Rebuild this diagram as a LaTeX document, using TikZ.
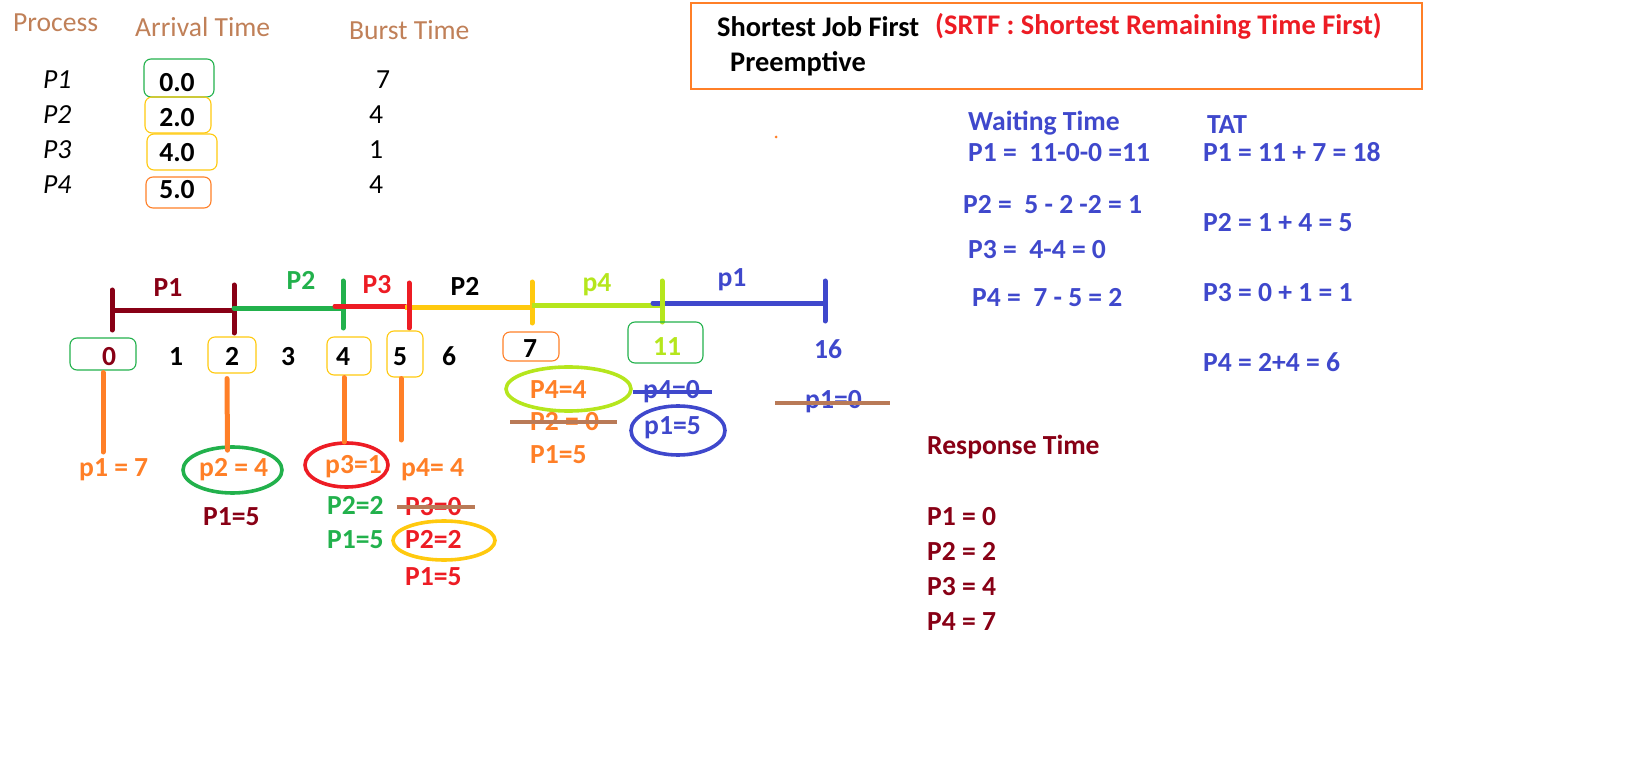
\documentclass[tikz,border=0pt]{standalone}
\usepackage{fontspec}
\setmainfont{Carlito}
\usetikzlibrary{shapes.geometric}
\definecolor{pmaroon}{RGB}{136,0,21}
\definecolor{pred}{RGB}{237,28,36}
\definecolor{porange}{RGB}{255,127,39}
\definecolor{pgold}{RGB}{255,201,14}
\definecolor{pgreen}{RGB}{34,177,76}
\definecolor{plime}{RGB}{181,230,29}
\definecolor{pblue}{RGB}{63,72,204}
\definecolor{pbrown}{RGB}{185,122,87}
\definecolor{phdr}{RGB}{192,128,88}
\begin{document}
\begin{tikzpicture}[x=1pt,y=-1pt,
  txt/.style={inner sep=0pt, text height=17pt, text depth=0pt, font=\fontsize{27.6}{32}\selectfont},
  btxt/.style={txt, font=\fontsize{27.6}{32}\selectfont\bfseries},
  ttxt/.style={txt, font=\fontsize{28.4}{32}\selectfont\bfseries},
  itxt/.style={txt, font=\fontsize{27.6}{32}\selectfont\itshape},
  rbox/.style={draw, rounded corners=7pt, line width=1.1pt, inner sep=0pt},
  oval/.style={draw, ellipse, line width=3.6pt, inner sep=0pt},
  bar/.style={line width=5pt},
  tick/.style={line width=5pt, line cap=round},
  strike/.style={line width=4pt, pbrown},
  oline/.style={line width=5pt, porange, line cap=round}]
\useasboundingbox (0,0) rectangle (1634,762);

% ---------- process table ----------
\node[txt, phdr, anchor=west] (hproc) at (13,23) {Process};
\node[txt, phdr, anchor=west] (harr) at (135,28) {Arrival Time};
\node[txt, phdr, anchor=west] (hburst) at (349,31) {Burst Time};
\node[itxt, anchor=west] (r1) at (43,80) {P1};
\node[itxt, anchor=west] (r2) at (43,115) {P2};
\node[itxt, anchor=west] (r3) at (43,150) {P3};
\node[itxt, anchor=west] (r4) at (43,185) {P4};
\node[rbox, draw=pgreen, minimum width=70pt, minimum height=38pt] (ab1) at (179,78) {};
\node[rbox, draw=pgold, minimum width=66pt, minimum height=36pt] (ab2) at (178,115) {};
\node[rbox, draw=pgold, minimum width=70pt, minimum height=36pt] (ab3) at (182,152) {};
\node[rbox, draw=porange, minimum width=65pt, minimum height=31pt] (ab4) at (178.5,192.5) {};
\node[btxt] (a1) at (177,83) {0.0};
\node[btxt] (a2) at (177,118) {2.0};
\node[btxt] (a3) at (177,153) {4.0};
\node[btxt] (a4) at (177,190) {5.0};
\node[txt] (b1) at (383,80) {7};
\node[txt] (b2) at (376,115) {4};
\node[txt] (b3) at (376,150) {1};
\node[txt] (b4) at (376,185) {4};

% ---------- title ----------
\node[draw=porange, line width=1.3pt, minimum width=731pt, minimum height=86pt, inner sep=0pt] (tbox) at (1056.5,46) {};
\node[ttxt, anchor=west] (t1) at (717,28) {Shortest Job First};
\node[ttxt, pred, anchor=west] (t2) at (935,26) {(SRTF : Shortest Remaining Time First)};
\node[ttxt, anchor=west] (t3) at (730,63) {Preemptive};
\fill[porange] (776,137) circle (1.5);

% ---------- waiting time / TAT ----------
\begin{scope}[every node/.style={btxt, pblue, anchor=west}]
\node (wt) at (968,122) {Waiting Time};
\node (w1) at (968,153) {P1 =\ \ 11-0-0 =11};
\node (w2) at (963,205) {P2 =\ \ 5 - 2 -2 = 1};
\node (w3) at (968,250) {P3 =\ \ 4-4 = 0};
\node (w4) at (972,298) {P4 =\ \ 7 - 5 = 2};
\node (tat) at (1207,125) {TAT};
\node (ta1) at (1203,153) {P1 = 11 + 7 = 18};
\node (ta2) at (1203,223) {P2 = 1 + 4 = 5};
\node (ta3) at (1203,293) {P3 = 0 + 1 = 1};
\node (ta4) at (1203,363) {P4 = 2+4 = 6};
\end{scope}

% ---------- response time ----------
\begin{scope}[every node/.style={btxt, pmaroon, anchor=west}]
\node (rt) at (927,446) {Response Time};
\node (rt1) at (927,517) {P1 = 0};
\node (rt2) at (927,552) {P2 = 2};
\node (rt3) at (927,587) {P3 = 4};
\node (rt4) at (927,622) {P4 = 7};
\end{scope}

% ---------- gantt chart ----------
\coordinate (g0) at (112,310);
\coordinate (g2) at (234,310);
\draw[bar, pmaroon] (g0) -- (g2);
\draw[tick, pmaroon] (112,290) -- (112,330);
\draw[tick, pmaroon] (234,285) -- (234,333);
\draw[bar, pgreen, line cap=round] (234,308) -- (343,308);
\draw[tick, pgreen] (343,281) -- (343,328);
\draw[bar, pred, line cap=round] (335,306) -- (405,306);
\draw[bar, pgold] (405,307) -- (532,307);
\draw[tick, pred] (409,283) -- (409,328);
\draw[tick, pgold] (532,282) -- (532,323);
\draw[bar, plime] (532,305) -- (662,305);
\draw[bar, pblue, line cap=round] (653,303) -- (825,303);
\draw[tick, plime] (662,281) -- (662,322);
\draw[tick, pblue] (825,281) -- (825,321);

\node[btxt, pmaroon] (gl1) at (168,288) {P1};
\node[btxt, pgreen] (gl2) at (301,281) {P2};
\node[btxt, pred] (gl3) at (377,285) {P3};
\node[btxt] (gl4) at (465,287) {P2};
\node[btxt, plime] (gl5) at (597,283) {p4};
\node[btxt, pblue] (gl6) at (732,278) {p1};

% time marks
\node[rbox, draw=pgreen, minimum width=66pt, minimum height=32pt] (bx0) at (103,354) {};
\node[rbox, draw=pgold, minimum width=48pt, minimum height=36pt] (bx2) at (232,355) {};
\node[rbox, draw=pgold, minimum width=44pt, minimum height=38pt] (bx4) at (349,356) {};
\node[rbox, draw=pgold, minimum width=36pt, minimum height=46pt] (bx5) at (405,354) {};
\node[rbox, draw=porange, minimum width=56pt, minimum height=29pt] (bx7) at (531,346.5) {};
\node[rbox, draw=pgreen, minimum width=75pt, minimum height=41pt] (bx11) at (665.5,342.5) {};
\node[btxt, pmaroon] (n0) at (109,357) {0};
\node[btxt] (n1) at (176,357) {1};
\node[btxt] (n2) at (232,357) {2};
\node[btxt] (n3) at (288,357) {3};
\node[btxt] (n4) at (343,357) {4};
\node[btxt] (n5) at (400,357) {5};
\node[btxt] (n6) at (449,357) {6};
\node[btxt] (n7) at (530,349) {7};
\node[btxt, plime] (n11) at (667,347) {11};
\node[btxt, pblue] (n16) at (828,350) {16};

% ---------- states below ----------
\node[btxt, porange, anchor=west] (s0) at (79,468) {p1 = 7};
\node[oval, draw=pgreen, minimum width=99pt, minimum height=46pt] (e2) at (232.5,470) {};
\node[btxt, porange, anchor=west] (s2) at (199,468) {p2 = 4};
\node[btxt, pmaroon, anchor=west] (s2b) at (203,517) {P1=5};
\node[oval, draw=pred, minimum width=83pt, minimum height=44pt] (e4) at (346.5,465) {};
\node[btxt, porange, anchor=west] (s4) at (325,465) {p3=1};
\node[btxt, pgreen, anchor=west] (s4b) at (327,506) {P2=2};
\node[btxt, pgreen, anchor=west] (s4c) at (327,540) {P1=5};
\node[btxt, porange, anchor=west] (s5) at (401,468) {p4= 4};
\node[btxt, pred, anchor=west] (s5b) at (405,507) {P3=0};
\draw[strike] ([xshift=-8pt]s5b.west) -- ([xshift=13pt]s5b.east);
\node[oval, draw=pgold, minimum width=102pt, minimum height=39pt] (e5) at (444,540.5) {};
\node[btxt, pred, anchor=west] (s5c) at (405,540) {P2=2};
\node[btxt, pred, anchor=west] (s5d) at (405,577) {P1=5};

\node[oval, draw=plime, minimum width=125pt, minimum height=44pt] (e7) at (568.5,389) {};
\node[btxt, porange, anchor=west] (s7) at (530,390) {P4=4};
\node[btxt, porange, anchor=west] (s7b) at (530,422) {P2 = 0};
\draw[strike] ([xshift=-20pt]s7b.west) -- ([xshift=18pt]s7b.east);
\node[btxt, porange, anchor=west] (s7c) at (530,455) {P1=5};

\node[btxt, pblue, anchor=west] (s11) at (643,390) {p4=0};
\draw[line width=3.5pt, pblue] ([xshift=-10pt,yshift=-2pt]s11.west) -- ([xshift=12pt,yshift=-2pt]s11.east);
\node[oval, draw=pblue, minimum width=94pt, minimum height=49pt] (e11) at (678,430.5) {};
\node[btxt, pblue, anchor=west] (s11b) at (644,426) {p1=5};

\node[btxt, pblue, anchor=west] (s16) at (805,400) {p1=0};
\draw[strike] ([xshift=-30pt,yshift=-3pt]s16.west) -- ([xshift=28pt,yshift=-3pt]s16.east);

% connectors from time marks
\coordinate (c0) at (103,452);
\coordinate (c4) at (344,442);
\coordinate (c5) at (401,440);
\draw[oline] ([yshift=-2pt]bx0.south -| c0) -- (c0);
\draw[oline] ([yshift=-5pt,xshift=-5pt]bx2.south) -- ([yshift=-5pt,xshift=-5pt]e2.north);
\draw[oline] ([yshift=-2pt]bx4.south -| c4) -- (c4);
\draw[oline] ([yshift=-1pt]bx5.south -| c5) -- (c5);
\end{tikzpicture}
\end{document}
